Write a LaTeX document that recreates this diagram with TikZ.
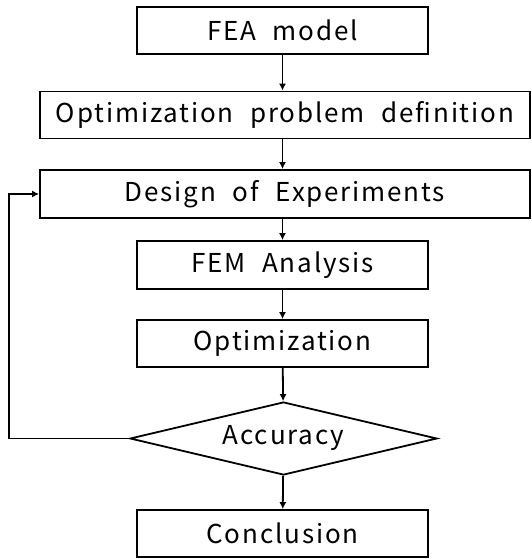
\documentclass[tikz,border=0pt]{standalone}
\usepackage{fontspec}
\setmainfont[LetterSpace=7,WordSpace=2.2]{Noto Sans CJK KR}
\usetikzlibrary{shapes.geometric,arrows.meta}

\begin{document}
\begin{tikzpicture}[x=1pt,y=-1pt,
    box/.style={draw,line width=1.8pt,inner sep=0pt,minimum height=47pt,font=\fontsize{26}{30}\selectfont},
    decide/.style={draw,diamond,aspect=4.2,line width=1.8pt,inner sep=0pt,minimum width=307pt,minimum height=73pt,font=\fontsize{26}{30}\selectfont},
    flow/.style={line width=1.8pt,-{Latex[length=7pt,width=7pt]}}]
    \useasboundingbox (0,0) rectangle (532,559);

    % Boxes
    \node[box,minimum width=291pt] (fea) at (282.5,30.5) {FEA model};
    \node[box,minimum width=490pt] (def) at (285,115) {Optimization problem definition};
    \node[box,minimum width=490pt,minimum height=48pt] (doe) at (285,194) {Design of Experiments};
    \node[box,minimum width=291pt,minimum height=48pt] (fem) at (282.5,265) {FEM Analysis};
    \node[box,minimum width=291pt] (opt) at (282.5,343.5) {Optimization};
    \node[decide] (acc) at (283.5,438.5) {Accuracy};
    \node[box,minimum width=291pt] (con) at (282.5,533.5) {Conclusion};

    % Arrows
    \draw[flow] (fea) -- (fea |- def.north);
    \draw[flow] (fea |- def.south) -- (fea |- doe.north);
    \draw[flow] (fea |- doe.south) -- (fem);
    \draw[flow] (fem) -- (opt);
    \draw[flow] (opt) -- (acc);
    \draw[flow] (acc) -- (con);

    % Loop back
    \coordinate (back) at (9,438.5);
    \draw[flow] (acc.west) -- (back) |- (doe.west);
\end{tikzpicture}
\end{document}
